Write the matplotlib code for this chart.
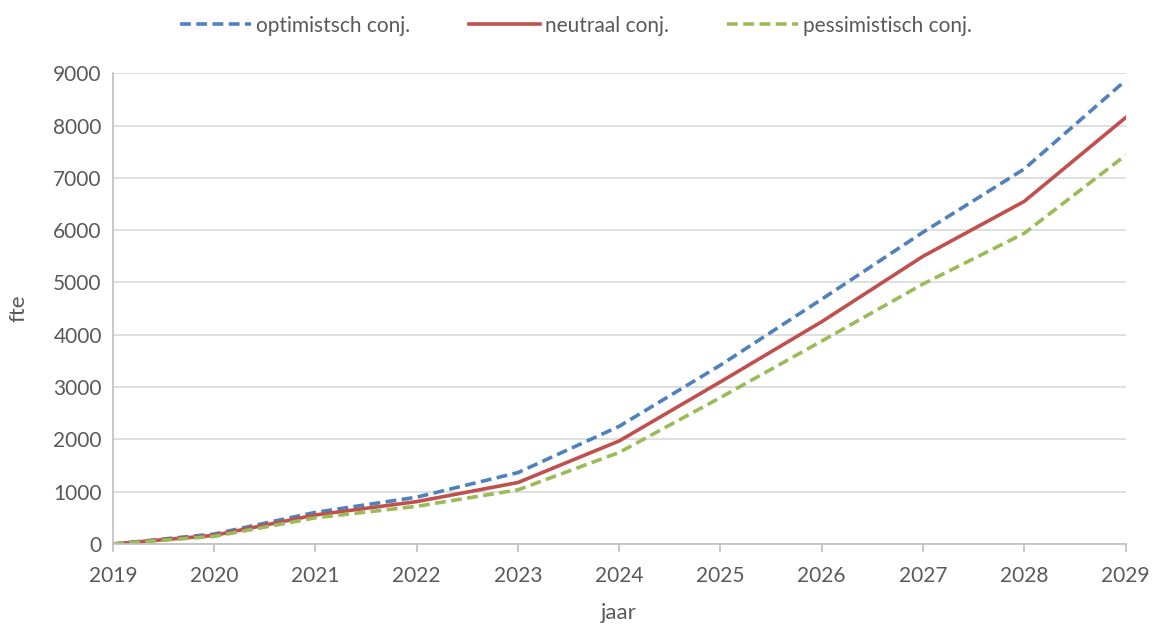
import matplotlib
matplotlib.use('Agg')
import matplotlib.pyplot as plt
import numpy as np

# data
years = [2019, 2020, 2021, 2022, 2023, 2024, 2025, 2026, 2027, 2028, 2029]
optimistisch = [0, 190, 605, 895, 1365, 2250, 3420, 4680, 5960, 7170, 8860]
neutraal = [0, 165, 555, 810, 1175, 1970, 3100, 4250, 5500, 6550, 8150]
pessimistisch = [0, 145, 500, 720, 1035, 1750, 2800, 3880, 4970, 5940, 7430]
series_labels = ['optimistsch conj.', 'neutraal conj.', 'pessimistisch conj.']

plt.rcParams['font.family'] = ['Lato', 'DejaVu Sans']
txt = '#595959'

fig = plt.figure(figsize=(11.52, 6.26), dpi=100)
ax = fig.add_axes([0.098, 0.131, 0.879, 0.752])

ax.plot(years, optimistisch, color='#4f81bd', lw=2.6, dashes=(3, 1.5), label=series_labels[0])
ax.plot(years, neutraal, color='#c0504d', lw=2.6, label=series_labels[1])
ax.plot(years, pessimistisch, color='#9bbb59', lw=2.6, dashes=(3, 1.5), label=series_labels[2])

ax.set_xlim(2019, 2029)
ax.set_ylim(0, 9000)
ax.set_xticks(years)
ax.set_yticks(np.arange(0, 9001, 1000))
ax.grid(axis='y', color='#d9d9d9', lw=1.2)
ax.set_axisbelow(True)

for s in ['top', 'right']:
    ax.spines[s].set_visible(False)
for s in ['left', 'bottom']:
    ax.spines[s].set_color('#bfbfbf')
    ax.spines[s].set_linewidth(1.2)

ax.tick_params(axis='x', direction='out', length=6, color='#bfbfbf', width=1.2,
               labelsize=15, labelcolor=txt, pad=10)
ax.tick_params(axis='y', length=0, labelsize=15, labelcolor=txt, pad=8)

ax.set_xlabel('jaar', fontsize=16, color=txt, labelpad=12)
ax.set_ylabel('fte', fontsize=16, color=txt, labelpad=18)

fig.legend(loc='upper center', bbox_to_anchor=(0.5, 1.005), ncol=3, frameon=False,
           fontsize=15, labelcolor=txt, handlelength=3.4, handletextpad=0.25,
           columnspacing=2.8)

fig.savefig('out.png', dpi=100)
